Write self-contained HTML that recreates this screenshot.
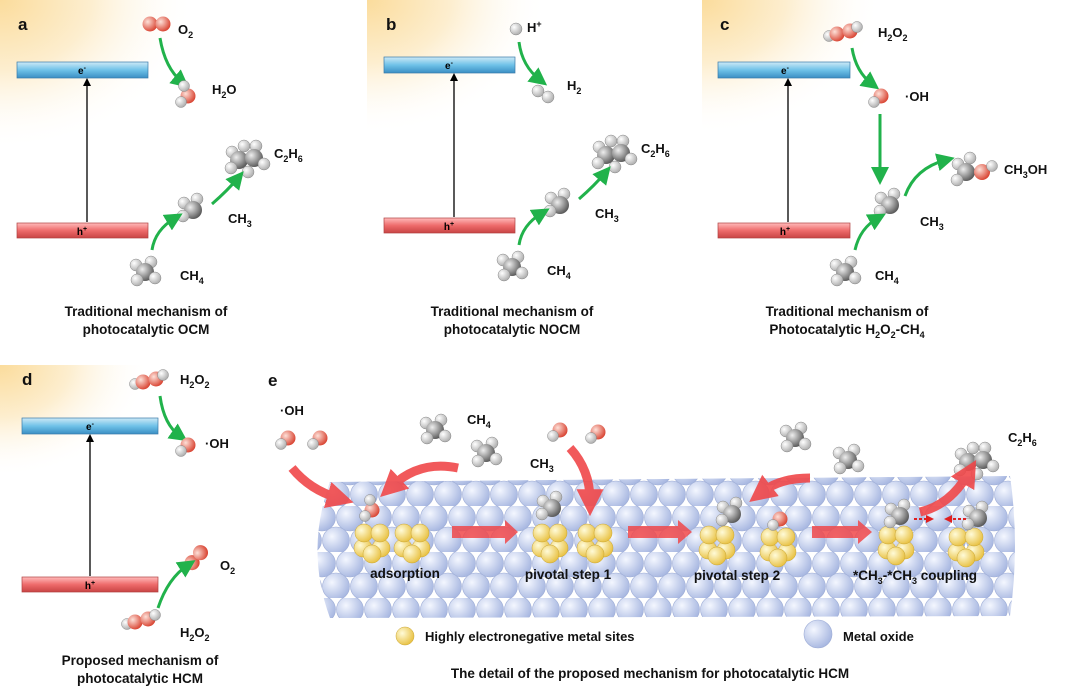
<!DOCTYPE html>
<html><head><meta charset="utf-8"><style>
html,body{margin:0;padding:0;background:#fff;}
svg{display:block;font-family:"Liberation Sans",Arial,sans-serif;}
.t{font-weight:bold;font-size:13px;fill:#111;}
.c{font-weight:bold;font-size:13.5px;fill:#111;text-anchor:middle;}
.L{font-weight:bold;font-size:17px;fill:#111;}
.g{fill:none;stroke:#21b24b;stroke-width:3;marker-end:url(#ga);}
.r{fill:none;stroke:#f0484a;stroke-width:9;marker-end:url(#ra);opacity:.9}
</style></head><body>
<svg width="1080" height="697" viewBox="0 0 1080 697" xmlns="http://www.w3.org/2000/svg">
<defs>
<radialGradient id="sun" cx="0" cy="0" r="1"><stop offset="0" stop-color="#fbdc9c"/><stop offset=".35" stop-color="#fdeecf"/><stop offset=".75" stop-color="#fff" stop-opacity="0"/></radialGradient>
<radialGradient id="gy" cx=".35" cy=".35" r=".7"><stop offset="0" stop-color="#eee"/><stop offset="1" stop-color="#555"/></radialGradient>
<radialGradient id="wh" cx=".35" cy=".35" r=".7"><stop offset="0" stop-color="#fff"/><stop offset="1" stop-color="#aaa"/></radialGradient>
<radialGradient id="rd" cx=".35" cy=".35" r=".7"><stop offset="0" stop-color="#fde0d8"/><stop offset="1" stop-color="#d8402e"/></radialGradient>
<radialGradient id="yl" cx=".35" cy=".35" r=".7"><stop offset="0" stop-color="#fffbd8"/><stop offset="1" stop-color="#e8c040"/></radialGradient>
<radialGradient id="bl" cx=".35" cy=".35" r=".7"><stop offset="0" stop-color="#f4f7ff"/><stop offset="1" stop-color="#a6b6e0"/></radialGradient>
<linearGradient id="bb" x1="0" y1="0" x2="0" y2="1"><stop offset="0" stop-color="#cde9f7"/><stop offset=".5" stop-color="#6fc2e8"/><stop offset="1" stop-color="#3a8ec4"/></linearGradient>
<linearGradient id="rb" x1="0" y1="0" x2="0" y2="1"><stop offset="0" stop-color="#fbb"/><stop offset=".5" stop-color="#ee6b6b"/><stop offset="1" stop-color="#c94444"/></linearGradient>
<pattern id="sl" width="28" height="46" patternUnits="userSpaceOnUse">
<circle cx="14" cy="11.5" r="13.5" fill="url(#bl)" stroke="#9dacd6" stroke-width=".6"/>
<circle cx="0" cy="34.5" r="13.5" fill="url(#bl)" stroke="#9dacd6" stroke-width=".6"/>
<circle cx="28" cy="34.5" r="13.5" fill="url(#bl)" stroke="#9dacd6" stroke-width=".6"/>
</pattern>
<marker id="ga" markerWidth="6" markerHeight="6" refX="3" refY="3" orient="auto"><path d="M0,0 L6,3 L0,6 Z" fill="#21b24b"/></marker>
<marker id="ka" markerWidth="8" markerHeight="8" refX="4" refY="4" orient="auto" markerUnits="userSpaceOnUse"><path d="M0,0 L8,4 L0,8 Z" fill="#000"/></marker>
<marker id="ra" markerWidth="3" markerHeight="3" refX="1.2" refY="1.5" orient="auto"><path d="M0,0 L3,1.5 L0,3 Z" fill="#f0484a"/></marker>
<marker id="da" markerWidth="4" markerHeight="4" refX="2" refY="2" orient="auto"><path d="M0,0 L4,2 L0,4 Z" fill="#e02020"/></marker>
<g id="ch4"><circle cx="-9" cy="-7" r="6" fill="url(#wh)" stroke="#888" stroke-width=".5"/><circle cx="6" cy="-10" r="6" fill="url(#wh)" stroke="#888" stroke-width=".5"/><circle cx="0" cy="0" r="9" fill="url(#gy)"/><circle cx="-8" cy="8" r="6" fill="url(#wh)" stroke="#888" stroke-width=".5"/><circle cx="10" cy="6" r="6" fill="url(#wh)" stroke="#888" stroke-width=".5"/></g>
<g id="ch3"><circle cx="-9" cy="-7" r="6" fill="url(#wh)" stroke="#888" stroke-width=".5"/><circle cx="4" cy="-11" r="6" fill="url(#wh)" stroke="#888" stroke-width=".5"/><circle cx="0" cy="0" r="9" fill="url(#gy)"/><circle cx="-10" cy="6" r="6" fill="url(#wh)" stroke="#888" stroke-width=".5"/></g>
<g id="c2h6"><circle cx="-14" cy="-8" r="6" fill="url(#wh)" stroke="#888" stroke-width=".5"/><circle cx="-2" cy="-14" r="6" fill="url(#wh)" stroke="#888" stroke-width=".5"/><circle cx="10" cy="-14" r="6" fill="url(#wh)" stroke="#888" stroke-width=".5"/><circle cx="-7" cy="0" r="9" fill="url(#gy)"/><circle cx="8" cy="-2" r="9" fill="url(#gy)"/><circle cx="-15" cy="8" r="6" fill="url(#wh)" stroke="#888" stroke-width=".5"/><circle cx="2" cy="12" r="6" fill="url(#wh)" stroke="#888" stroke-width=".5"/><circle cx="18" cy="4" r="6" fill="url(#wh)" stroke="#888" stroke-width=".5"/></g>
<g id="h2o2"><circle cx="-13" cy="2" r="5.5" fill="url(#wh)" stroke="#888" stroke-width=".5"/><circle cx="-5" cy="0" r="7.5" fill="url(#rd)"/><circle cx="8" cy="-3" r="7.5" fill="url(#rd)"/><circle cx="15" cy="-7" r="5.5" fill="url(#wh)" stroke="#888" stroke-width=".5"/></g>
<g id="oh"><circle cx="0" cy="0" r="7.5" fill="url(#rd)"/><circle cx="-7" cy="6" r="5.5" fill="url(#wh)" stroke="#888" stroke-width=".5"/></g>
<g id="o2"><circle cx="-6" cy="0" r="7.5" fill="url(#rd)"/><circle cx="7" cy="0" r="7.5" fill="url(#rd)"/></g>
<g id="cl"><circle cx="-9" cy="8" r="9" fill="url(#yl)" stroke="#c9a430" stroke-width=".5"/><circle cx="9" cy="8" r="9" fill="url(#yl)" stroke="#c9a430" stroke-width=".5"/><circle cx="0" cy="14" r="9" fill="url(#yl)" stroke="#c9a430" stroke-width=".5"/><circle cx="-8" cy="-7" r="9" fill="url(#yl)" stroke="#c9a430" stroke-width=".5"/><circle cx="8" cy="-7" r="9" fill="url(#yl)" stroke="#c9a430" stroke-width=".5"/></g>
</defs>

<!-- sun glows -->
<rect x="0" y="0" width="260" height="200" fill="url(#sun)"/>
<rect x="367" y="0" width="240" height="180" fill="url(#sun)"/>
<rect x="702" y="0" width="240" height="180" fill="url(#sun)"/>
<rect x="0" y="365" width="200" height="150" fill="url(#sun)"/>

<g id="pa">
<rect x="17" y="62" width="131" height="16" fill="url(#bb)" stroke="#3a7aa8" stroke-width=".7"/>
<text x="82" y="74" font-size="10" font-weight="bold" text-anchor="middle">e<tspan dy="-4" font-size="7">-</tspan></text>
<rect x="17" y="223" width="131" height="15" fill="url(#rb)" stroke="#b04040" stroke-width=".7"/>
<text x="82" y="235" font-size="10" font-weight="bold" text-anchor="middle">h<tspan dy="-4" font-size="7">+</tspan></text>
<line x1="87" y1="222" x2="87" y2="82" stroke="#000" stroke-width="1.3" marker-end="url(#ka)"/>
<use href="#c2h6" x="246" y="160"/>
<use href="#ch3" x="193" y="210"/>
<use href="#ch4" x="145" y="272"/>
<path class="g" d="M212,204 Q228,190 238,178"/>
<path class="g" d="M152,250 Q155,230 175,218"/>
<text class="t" x="274" y="158">C<tspan dy="4" font-size="9">2</tspan><tspan dy="-4">H</tspan><tspan dy="4" font-size="9">6</tspan></text>
<text class="t" x="228" y="223">CH<tspan dy="4" font-size="9">3</tspan></text>
<text class="t" x="180" y="280">CH<tspan dy="4" font-size="9">4</tspan></text>
</g>
<text class="L" x="18" y="30">a</text>
<use href="#o2" x="156" y="24"/>
<text class="t" x="178" y="34">O<tspan dy="4" font-size="9">2</tspan></text>
<path class="g" d="M160,38 Q165,68 182,82"/>
<use href="#oh" x="188" y="96"/><circle cx="184" cy="86" r="5.5" fill="url(#wh)" stroke="#888" stroke-width=".5"/>
<text class="t" x="212" y="94">H<tspan dy="4" font-size="9">2</tspan><tspan dy="-4">O</tspan></text>
<text class="c" x="146" y="316">Traditional mechanism of</text>
<text class="c" x="146" y="334">photocatalytic OCM</text>

<use href="#pa" x="367" y="-5"/>
<text class="L" x="386" y="30">b</text>
<circle cx="516" cy="29" r="6" fill="url(#wh)" stroke="#888" stroke-width=".5"/>
<text class="t" x="527" y="32">H<tspan dy="-5" font-size="9">+</tspan></text>
<path class="g" d="M519,42 Q522,66 540,80"/>
<circle cx="538" cy="91" r="6" fill="url(#wh)" stroke="#888" stroke-width=".5"/><circle cx="548" cy="97" r="6" fill="url(#wh)" stroke="#888" stroke-width=".5"/>
<text class="t" x="567" y="90">H<tspan dy="4" font-size="9">2</tspan></text>
<text class="c" x="512" y="316">Traditional mechanism of</text>
<text class="c" x="512" y="334">photocatalytic NOCM</text>

<g transform="translate(701,0)">
<rect x="17" y="62" width="132" height="16" fill="url(#bb)" stroke="#3a7aa8" stroke-width=".7"/>
<text x="84" y="74" font-size="10" font-weight="bold" text-anchor="middle">e<tspan dy="-4" font-size="7">-</tspan></text>
<rect x="17" y="223" width="132" height="15" fill="url(#rb)" stroke="#b04040" stroke-width=".7"/>
<text x="84" y="235" font-size="10" font-weight="bold" text-anchor="middle">h<tspan dy="-4" font-size="7">+</tspan></text>
<line x1="87" y1="222" x2="87" y2="82" stroke="#000" stroke-width="1.3" marker-end="url(#ka)"/>
</g>
<text class="L" x="720" y="30">c</text>
<use href="#h2o2" x="842" y="34"/>
<text class="t" x="878" y="37">H<tspan dy="4" font-size="9">2</tspan><tspan dy="-4">O</tspan><tspan dy="4" font-size="9">2</tspan></text>
<path class="g" d="M852,48 Q856,72 872,84"/>
<use href="#oh" x="881" y="96"/>
<text class="t" x="905" y="101">·OH</text>
<path class="g" d="M880,114 L880,176"/>
<use href="#ch3" x="890" y="205"/>
<path class="g" d="M905,196 Q915,168 946,160"/>
<g transform="translate(970,172)"><circle cx="-12" cy="-8" r="6" fill="url(#wh)" stroke="#888" stroke-width=".5"/><circle cx="0" cy="-14" r="6" fill="url(#wh)" stroke="#888" stroke-width=".5"/><circle cx="-4" cy="0" r="9" fill="url(#gy)"/><circle cx="-13" cy="8" r="6" fill="url(#wh)" stroke="#888" stroke-width=".5"/><circle cx="12" cy="0" r="8" fill="url(#rd)"/><circle cx="22" cy="-6" r="5.5" fill="url(#wh)" stroke="#888" stroke-width=".5"/></g>
<text class="t" x="1004" y="174">CH<tspan dy="4" font-size="9">3</tspan><tspan dy="-4">OH</tspan></text>
<text class="t" x="920" y="226">CH<tspan dy="4" font-size="9">3</tspan></text>
<use href="#ch4" x="845" y="272"/>
<path class="g" d="M855,250 Q860,228 878,218"/>
<text class="t" x="875" y="280">CH<tspan dy="4" font-size="9">4</tspan></text>
<text class="c" x="847" y="316">Traditional mechanism of</text>
<text class="c" x="847" y="334">Photocatalytic H<tspan dy="4" font-size="9">2</tspan><tspan dy="-4">O</tspan><tspan dy="4" font-size="9">2</tspan><tspan dy="-4">-CH</tspan><tspan dy="4" font-size="9">4</tspan></text>

<!-- Panel d -->
<text class="L" x="22" y="385">d</text>
<rect x="22" y="418" width="136" height="16" fill="url(#bb)" stroke="#3a7aa8" stroke-width=".7"/>
<text x="90" y="430" font-size="10" font-weight="bold" text-anchor="middle">e<tspan dy="-4" font-size="7">-</tspan></text>
<rect x="22" y="577" width="136" height="15" fill="url(#rb)" stroke="#b04040" stroke-width=".7"/>
<text x="90" y="589" font-size="10" font-weight="bold" text-anchor="middle">h<tspan dy="-4" font-size="7">+</tspan></text>
<line x1="90" y1="576" x2="90" y2="438" stroke="#000" stroke-width="1.3" marker-end="url(#ka)"/>
<use href="#h2o2" x="148" y="382"/>
<text class="t" x="180" y="384">H<tspan dy="4" font-size="9">2</tspan><tspan dy="-4">O</tspan><tspan dy="4" font-size="9">2</tspan></text>
<path class="g" d="M160,396 Q164,425 180,436"/>
<use href="#oh" x="188" y="445"/>
<text class="t" x="205" y="448">·OH</text>
<g transform="translate(196,558) rotate(-50)"><use href="#o2"/></g>
<text class="t" x="220" y="570">O<tspan dy="4" font-size="9">2</tspan></text>
<path class="g" d="M158,608 Q168,578 188,565"/>
<use href="#h2o2" x="140" y="622"/>
<text class="t" x="180" y="637">H<tspan dy="4" font-size="9">2</tspan><tspan dy="-4">O</tspan><tspan dy="4" font-size="9">2</tspan></text>
<text class="c" x="140" y="665">Proposed mechanism of</text>
<text class="c" x="140" y="683">photocatalytic HCM</text>

<!-- Panel e -->
<text class="L" x="268" y="386">e</text>
<path d="M330,482 L1010,476 Q1020,545 1010,616 L330,618 Q305,550 330,482 Z" fill="url(#sl)"/>
<text class="t" x="280" y="415">·OH</text>
<use href="#oh" x="288" y="438"/><use href="#oh" x="320" y="438"/>
<use href="#ch4" x="435" y="430"/><use href="#ch4" x="486" y="453"/>
<text class="t" x="467" y="424">CH<tspan dy="4" font-size="9">4</tspan></text>
<path class="r" d="M292,468 Q310,490 338,498"/>
<path class="r" d="M458,468 Q420,460 392,486"/>
<use href="#oh" x="560" y="430"/><use href="#oh" x="598" y="432"/>
<path class="r" d="M570,448 Q590,470 590,500"/>
<use href="#ch4" x="795" y="438"/><use href="#ch4" x="848" y="460"/>
<path class="r" d="M810,478 Q780,478 762,492"/>
<use href="#c2h6" x="975" y="462"/>
<text class="t" x="1008" y="442">C<tspan dy="4" font-size="9">2</tspan><tspan dy="-4">H</tspan><tspan dy="4" font-size="9">6</tspan></text>
<path class="r" d="M920,512 Q950,505 968,474"/>

<use href="#cl" x="372" y="540"/><use href="#oh" x="372" y="510"/><circle cx="370" cy="500" r="5.5" fill="url(#wh)" stroke="#888" stroke-width=".5"/>
<use href="#cl" x="412" y="540"/>
<use href="#cl" x="550" y="540"/><use href="#ch3" x="552" y="508"/>
<use href="#cl" x="595" y="540"/>
<text class="t" x="530" y="468">CH<tspan dy="4" font-size="9">3</tspan></text>
<use href="#cl" x="717" y="542"/><use href="#ch3" x="732" y="514"/>
<use href="#cl" x="778" y="544"/><use href="#oh" x="780" y="519"/>
<use href="#cl" x="896" y="542"/><use href="#ch3" x="900" y="516"/>
<use href="#cl" x="966" y="544"/><use href="#ch3" x="978" y="518"/>
<line x1="914" y1="519" x2="930" y2="519" stroke="#e02020" stroke-width="2" stroke-dasharray="3,2" marker-end="url(#da)"/>
<line x1="966" y1="519" x2="948" y2="519" stroke="#e02020" stroke-width="2" stroke-dasharray="3,2" marker-end="url(#da)"/>
<path d="M452,526 L505,526 L505,520 L518,532 L505,544 L505,538 L452,538 Z" fill="#f0484a" opacity=".85"/>
<path d="M628,526 L678,526 L678,520 L692,532 L678,544 L678,538 L628,538 Z" fill="#f0484a" opacity=".85"/>
<path d="M812,526 L858,526 L858,520 L872,532 L858,544 L858,538 L812,538 Z" fill="#f0484a" opacity=".85"/>
<text class="c" x="405" y="578">adsorption</text>
<text class="c" x="568" y="579">pivotal step 1</text>
<text class="c" x="737" y="580">pivotal step 2</text>
<text class="c" x="915" y="580">*CH<tspan dy="4" font-size="9">3</tspan><tspan dy="-4">-*CH</tspan><tspan dy="4" font-size="9">3</tspan><tspan dy="-4"> coupling</tspan></text>
<circle cx="405" cy="636" r="9" fill="url(#yl)" stroke="#c9a430" stroke-width=".5"/>
<text class="t" x="425" y="641">Highly electronegative metal sites</text>
<circle cx="818" cy="634" r="14" fill="url(#bl)" stroke="#9dacd6" stroke-width=".6"/>
<text class="t" x="843" y="641">Metal oxide</text>
<text class="c" x="650" y="678">The detail of the proposed mechanism for photocatalytic HCM</text>
</svg>
</body></html>
